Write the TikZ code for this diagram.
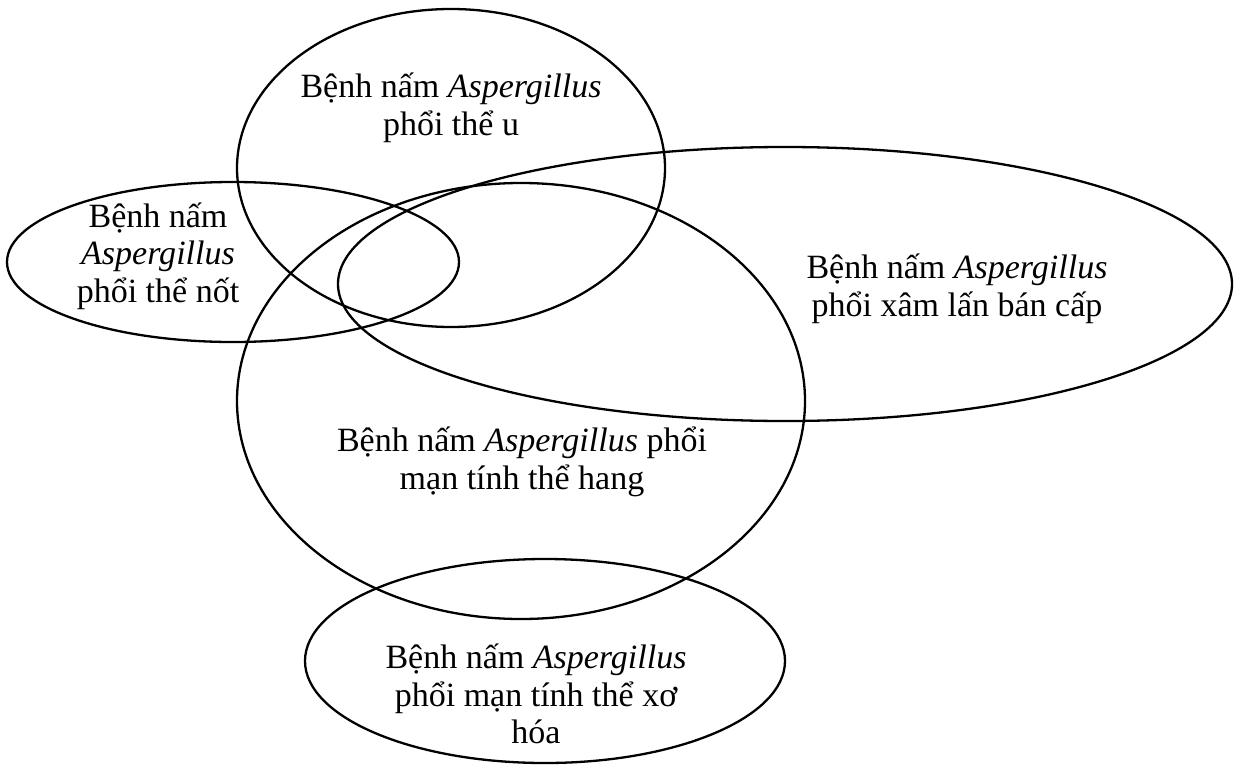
\documentclass[tikz,border=0pt]{standalone}
\usepackage{fontspec}
\setmainfont{Liberation Serif}
\usetikzlibrary{positioning}

\begin{document}
\begin{tikzpicture}[x=1pt,y=-1pt,
  every node/.style={font=\fontsize{34pt}{37.5pt}\selectfont},
  ring/.style={draw=black,line width=2.3pt},
  lbl/.style={align=center,inner sep=0pt}]
\useasboundingbox (0,0) rectangle (1238,765);
% the five groups
\draw[ring] (451,168) ellipse [x radius=214, y radius=159];
\draw[ring] (233,262) ellipse [x radius=226, y radius=80];
\draw[ring] (785,284) ellipse [x radius=447, y radius=137];
\draw[ring] (521,401) ellipse [x radius=284, y radius=218];
\draw[ring] (545,661) ellipse [x radius=240, y radius=102];
% labels
\node[lbl] (u) at (451,108) {Bệnh nấm \textit{Aspergillus}\\phổi thể u};
\node[lbl] (not) at (158,256) {Bệnh nấm\\\textit{Aspergillus}\\phổi thể nốt};
\node[lbl] (xam) at (957,289) {Bệnh nấm \textit{Aspergillus}\\phổi xâm lấn bán cấp};
\node[lbl] (hang) at (522,462) {Bệnh nấm \textit{Aspergillus} phổi\\mạn tính thể hang};
\node[lbl] (xo) at (536,694) {Bệnh nấm \textit{Aspergillus}\\phổi mạn tính thể xơ\\hóa};
\end{tikzpicture}
\end{document}
